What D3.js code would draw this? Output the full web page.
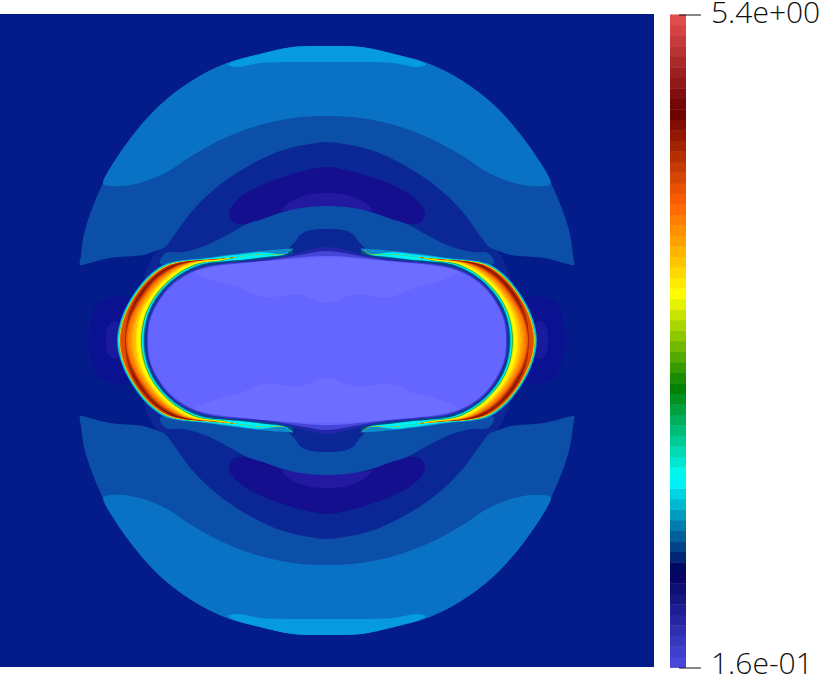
<!DOCTYPE html>
<html><head><meta charset="utf-8">
<style>html,body{margin:0;padding:0;background:#fff;overflow:hidden}svg{display:block}</style>
<script src="https://cdn.jsdelivr.net/npm/d3@7"></script></head><body>
<svg id="c" width="824" height="674"></svg>
<script>
// colour legend, bottom to top
const legendColors=["#4747db","#3f3fcc","#3737be","#2f2faf","#2626a1","#1e1e92","#161683","#0e0e75","#060666","#000861","#002674","#004387","#006099","#007dac","#009bbf","#00b8d2","#00d5e5","#00f2f7","#00f7ee","#00e8d1","#00dab4","#00cb97","#00bc79","#00ae5c","#009f3f","#009121","#008204","#198c00","#369b00","#54aa00","#71b800","#8ec700","#abd500","#c9e400","#e6f300","#fffc00","#ffea00","#ffd800","#ffc600","#ffb400","#ffa200","#ff9000","#ff7d00","#ff6b00","#f85c00","#e75100","#d64600","#c53b00","#b43000","#a32500","#921900","#810e00","#700300","#750606","#820f0f","#8f1818","#9d2020","#aa2929","#b83232","#c53b3b","#d34343","#e04c4c"];
const legendTicks=[0.16,5.4];
const legendLabels=["1.6e-01","5.4e+00"];

// mesh extent
const meshX=[0,654], meshY=[14,667];

// contour outlines, upper left quarter of the field [x,y]
const capOutline=[[327,46],[293,47],[260,54],[232,62],[228,65],[238,67],[250,65],[260,63],[327,62]];
const lightOutline=[[327,46],[293,47],[260,54],[227,63],[193,80],[160,105],[127,143],[103,183],[105,185],[123,186],[143,182],[167,172],[193,155],[227,137],[260,125],[293,118],[327,116]];
const midOutline=[[327,46],[293,47],[260,54],[227,63],[193,80],[160,105],[127,143],[103,183],[85,230],[81,255],[80,265],[84,264.5],[110,258],[143,255],[160,250],[200,250],[327,255]];
const navyOutline=[[327,142],[310,144],[283,150],[250,165],[217,187],[193,210],[173,237],[165,247],[157,251],[150,262],[145,285],[200,300],[327,300]];
const lensOutline=[[327,167],[307,170],[283,177],[257,187],[237,200],[229,213],[233,222],[247,224],[263,219],[290,210],[327,206]];
const lensCoreOutline=[[327,193],[307,195],[290,202],[282,210],[290,210],[327,206]];
const archOutline=[[327,206],[290,210],[263,219],[247,224],[227,235],[207,245],[183,252],[166,253],[160,263],[190,268],[240,265],[327,265]];
const bumpOutline=[[327,229],[315,229.5],[307,231],[300,235],[295,242],[289,249],[290,262],[327,262]];
const lobeOutline=[[89,340.5],[92,317],[98,302],[110,298],[128,298],[140,340.5],[128,383],[112,383],[100,378],[92,362]];
const lobeCoreOutline=[[106,340.5],[108,326],[115,321],[125,330],[125,350],[115,359],[108,354]];
const rimDark=[[327,247],[305,251],[285,256],[265,259],[245,261],[225,263],[205,266],[186,273],[169,285],[156,302],[148,320],[146,340.5]];
const rimMid=[[327,251],[305,254],[285,257.5],[265,260.5],[245,262],[226,263.5],[206,266.5],[187,273.5],[170,285.5],[157,302.5],[149,320.5],[147,340.5]];
const bubbleOutline=[[327,256],[305,257],[285,259],[265,261.5],[245,263],[227,264.5],[207,267.5],[188,274.5],[171,286.5],[158,303],[150,321],[148,340.5]];
const bubbleGlow=[[327,303],[300,295],[263,297],[240,288],[217,282],[195,272],[210,268],[245,263],[327,258]];

// shock front, stations from the tip to the thin tail
const shockOuter=[[117,340.5],[121,319],[131,298],[147,277],[163,265],[177,261],[205,258],[230,254.5],[260,251],[285,249],[293,248.5]];
const shockInner=[[145,340.5],[148,318],[156,300],[170,283],[187,271],[205,264],[227,261.5],[245,260],[265,257.5],[285,254.5],[293,249]];
// contour position across the front at each station, outermost first
const shockColors=["#0a8ccc","#00eaf2","#3cb83c","#ffea00","#ff8a00","#e05000","#c03800","#8a1500","#b83200","#f06000","#ff8000","#ffa200","#ffc600","#ffea00","#fffc00","#c9e400","#20a840","#00f2f7","#009bbf","#004a8c"];
const shockLevels=[
 [0,0,0,0,0,0,0,0,0,0,0],
 [.03,.03,.04,.05,.06,.08,.12,.15,.20,.92,1],
 [.06,.06,.07,.08,.10,.14,.30,.50,.50,.92,1],
 [.08,.08,.09,.11,.13,.18,.36,.50,.50,.92,1],
 [.10,.10,.11,.13,.16,.22,.40,.50,.50,.92,1],
 [.12,.12,.13,.16,.19,.26,.44,.50,.50,.92,1],
 [.30,.22,.15,.17,.20,.26,.44,.50,.50,.92,1],
 [.30,.26,.22,.24,.27,.30,.44,.50,.50,.92,1],
 [.30,.28,.31,.32,.36,.40,.44,.50,.50,.92,1],
 [.32,.34,.39,.40,.44,.44,.46,.50,.50,.92,1],
 [.38,.40,.46,.48,.50,.49,.48,.50,.50,.92,1],
 [.48,.50,.54,.56,.56,.52,.50,.50,.50,.92,1],
 [.58,.58,.62,.64,.62,.56,.52,.50,.50,.92,1],
 [.68,.67,.69,.70,.68,.60,.55,.50,.50,.92,1],
 [.74,.74,.75,.76,.74,.66,.58,.50,.50,.92,1],
 [.83,.83,.83,.84,.82,.74,.64,.50,.50,.92,1],
 [.86,.86,.86,.87,.85,.78,.70,.50,.50,.92,1],
 [.89,.89,.89,.90,.89,.84,.76,.50,.50,.92,1],
 [.94,.94,.94,.95,.95,.93,.90,.92,.92,.96,1],
 [.97,.97,.97,.98,.98,.97,.96,.97,.97,.98,1]
];

const svg=d3.select("#c");
const x=d3.scaleLinear().domain(meshX).range(meshX);
const y=d3.scaleLinear().domain(meshY).range(meshY);
const cx=d3.mean(meshX), cy=340.5;
const flipX=p=>[2*cx-p[0],p[1]];
const flipY=p=>[p[0],2*cy-p[1]];
const onAxisX=p=>p[0]===cx;
const onAxisY=p=>p[1]===cy;
const closed=d3.line().x(d=>x(d[0])).y(d=>y(d[1])).curve(d3.curveCatmullRomClosed.alpha(.5));
const open=d3.line().x(d=>x(d[0])).y(d=>y(d[1])).curve(d3.curveCatmullRom.alpha(.5));

const field=svg.append("g");
field.append("rect").attr("x",x(meshX[0])).attr("y",y(meshY[0])).attr("width",x(meshX[1])-x(meshX[0])).attr("height",y(meshY[1])-y(meshY[0])).attr("fill","#041c8a");

function halfRing(pts){return pts.concat(pts.filter(p=>!onAxisX(p)).reverse().map(flipX));}
function both(pts,color){
  const r=halfRing(pts);
  [r,r.map(flipY)].forEach(q=>field.append("path").attr("d",closed(q)).attr("fill",color));
}
function lobe(pts,color){
  [pts,pts.map(flipX)].forEach(q=>field.append("path").attr("d",closed(q)).attr("fill",color));
}
function fullRing(q,color,parent){
  const left=q.concat(q.filter(p=>!onAxisY(p)).reverse().map(flipY));
  const ring=left.concat(left.filter(p=>!onAxisX(p)).reverse().map(flipX));
  parent.append("path").attr("d",closed(ring)).attr("fill",color);
}

both(midOutline,"#0b4fa9");
both(lightOutline,"#0a72c5");
both(capOutline,"#069adf");
both(navyOutline,"#0b2795");
both(lensOutline,"#130f8e");
both(lensCoreOutline,"#2319a1");
both(archOutline,"#0b4fa9");
both(bumpOutline,"#0b2795");
lobe(lobeOutline,"#0b1291");
lobe(lobeCoreOutline,"#1a1a9f");

// shock front bands
const defs=svg.append("defs");
defs.append("filter").attr("id","soft").append("feGaussianBlur").attr("stdDeviation",0.45);
const shockG=field.append("g").attr("filter","url(#soft)");
shockLevels.forEach((lev,k)=>{
  const upper=lev.map((f,i)=>[
    d3.interpolateNumber(shockOuter[i][0],shockInner[i][0])(f),
    d3.interpolateNumber(shockOuter[i][1],shockInner[i][1])(f)]);
  const arc=upper.slice().reverse().concat(upper.slice(1).map(flipY));
  [arc,arc.map(flipX)].forEach(q=>shockG.append("path").attr("d",open(q)+"Z").attr("fill",shockColors[k]));
});

const rimG=field.append("g").attr("filter","url(#soft)");
fullRing(rimDark,"#2226a8",rimG);
fullRing(rimMid,"#4444d8",rimG);
fullRing(bubbleOutline,"#6565ff",rimG);
both(bubbleGlow,"#6d6dff");

// colour bar
const legendY=d3.scaleLinear().domain(legendTicks).range([667.5,14.5]);
const band=d3.scaleBand().domain(d3.range(legendColors.length)).range([667.5,14.5]);
svg.append("g").selectAll("rect").data(legendColors).join("rect")
  .attr("x",670).attr("width",16).attr("y",(d,i)=>band(i)).attr("height",band.bandwidth()+.4).attr("fill",d=>d);
const axis=d3.axisRight(legendY).tickValues(legendTicks).tickSize(22).tickPadding(10).tickFormat((d,i)=>legendLabels[i]);
const ag=svg.append("g").attr("transform","translate(679,0)").call(axis);
ag.select(".domain").remove();
ag.selectAll(".tick line").attr("stroke","#111").attr("stroke-width",1);
ag.selectAll("text").attr("fill","#111").attr("font-family","'Open Sans'").attr("font-weight",300).attr("font-size",30).attr("dy",(d,i)=>i?"7.5px":"5.5px");
</script></body></html>
